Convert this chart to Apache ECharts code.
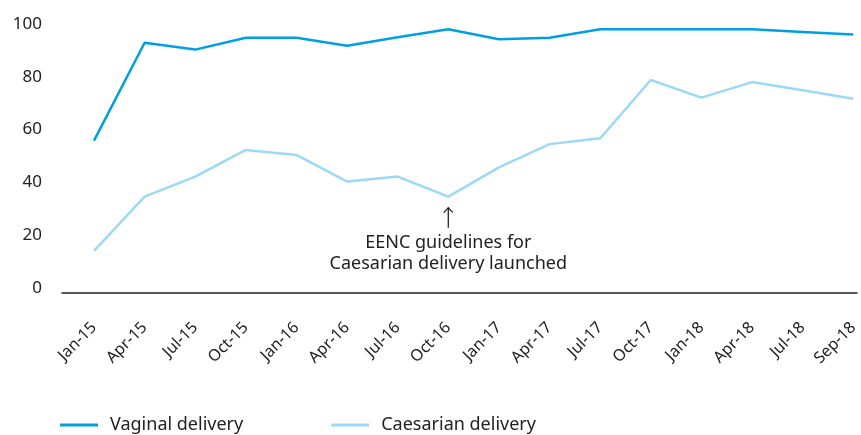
<!DOCTYPE html>
<html>
<head>
<meta charset="utf-8">
<script src="https://cdn.jsdelivr.net/npm/echarts@6/dist/echarts.min.js"></script>
<style>
  html, body { margin: 0; padding: 0; background: #fff; }
  #chart { width: 861px; height: 435px; }
</style>
</head>
<body>
<div id="chart"></div>
<script>
var months = ['Jan-15', 'Apr-15', 'Jul-15', 'Oct-15', 'Jan-16', 'Apr-16', 'Jul-16', 'Oct-16',
  'Jan-17', 'Apr-17', 'Jul-17', 'Oct-17', 'Jan-18', 'Apr-18', 'Jul-18', 'Sep-18']
var vaginal = [55.8, 92.9, 90.3, 94.8, 94.8, 91.8, 95.0, 98.0, 94.2, 94.8, 98.0, 98.0, 98.0, 98.0, 97.0, 96.0]
var caesarian = [14.1, 34.6, 42.2, 52.3, 50.4, 40.3, 42.2, 34.6, 45.7, 54.5, 56.7, 78.8, 72.1, 78.0, 74.9, 71.7]
var noteAt = 'Oct-16'
var noteLines = ['EENC guidelines for', 'Caesarian delivery launched']

var font = 'Noto Sans'
var chart = echarts.init(document.getElementById('chart'))

chart.setOption({
  animation: false,
  textStyle: { fontFamily: font },
  grid: [
    { left: 94, right: 2, top: 24, bottom: 147 },  // data area
    { left: 62, right: 4, top: 24, bottom: 147 }   // axis line + y labels
  ],
  legend: {
    top: 416,
    left: 60,
    padding: 0,
    icon: 'rect',
    itemWidth: 38,
    itemHeight: 3,
    itemGap: 88,
    textStyle: { fontFamily: font, fontSize: 18, color: '#222', padding: [0, 0, 0, 7] },
    data: ['Vaginal delivery', 'Caesarian delivery']
  },
  xAxis: [{
    gridIndex: 0,
    type: 'category',
    data: months,
    boundaryGap: false,
    axisLine: { show: false },
    axisTick: { show: false },
    axisLabel: { interval: 0, rotate: 45, margin: 37, fontSize: 16, color: '#222', fontFamily: font }
  }, {
    gridIndex: 1,
    type: 'value',
    min: 0,
    max: 1,
    offset: 5,
    axisLine: { show: true, onZero: false, lineStyle: { color: '#222', width: 1.5 } },
    axisTick: { show: false },
    axisLabel: { show: false },
    splitLine: { show: false }
  }],
  yAxis: [{
    gridIndex: 0,
    type: 'value',
    min: 0,
    max: 100,
    show: false
  }, {
    gridIndex: 1,
    type: 'value',
    min: 0,
    max: 100,
    interval: 20,
    axisLine: { show: false },
    axisTick: { show: false },
    splitLine: { show: false },
    axisLabel: { margin: 20, fontSize: 17, color: '#222', fontFamily: font }
  }],
  series: [{
    name: 'Vaginal delivery',
    type: 'line',
    xAxisIndex: 0,
    yAxisIndex: 0,
    data: vaginal,
    symbol: 'none',
    itemStyle: { color: '#009fe3' },
    lineStyle: { color: '#009fe3', width: 2.5 }
  }, {
    name: 'Caesarian delivery',
    type: 'line',
    xAxisIndex: 0,
    yAxisIndex: 0,
    data: caesarian,
    symbol: 'none',
    itemStyle: { color: '#9dd9f7' },
    lineStyle: { color: '#9dd9f7', width: 2.5 }
  }]
})

// annotation under the Oct-16 dip
var idx = months.indexOf(noteAt)
var pt = chart.convertToPixel({ xAxisIndex: 0, yAxisIndex: 0 }, [idx, caesarian[idx]])
var arrowTop = pt[1] + 11, arrowBot = pt[1] + 31
chart.setOption({
  graphic: [{
    type: 'line',
    shape: { x1: pt[0], y1: arrowTop, x2: pt[0], y2: arrowBot },
    style: { stroke: '#222', lineWidth: 1.3 }
  }, {
    type: 'polyline',
    shape: { points: [[pt[0] - 4.5, arrowTop + 5], [pt[0], arrowTop], [pt[0] + 4.5, arrowTop + 5]] },
    style: { stroke: '#222', lineWidth: 1.3, fill: null }
  }, {
    type: 'text',
    x: pt[0],
    y: arrowBot + 5,
    style: {
      text: noteLines.join('\n'),
      align: 'center',
      verticalAlign: 'top',
      fontFamily: font,
      fontSize: 18,
      lineHeight: 21,
      fill: '#222'
    }
  }]
})
</script>
</body>
</html>
